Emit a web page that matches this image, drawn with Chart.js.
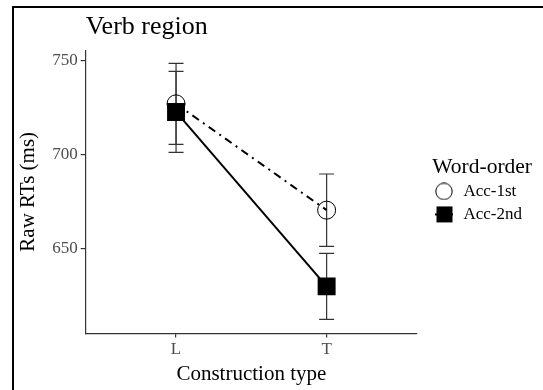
<!DOCTYPE html>
<html lang="en">
<head>
<meta charset="UTF-8">
<title>Verb region</title>
<script src="https://cdn.jsdelivr.net/npm/chart.js"></script>
<style>
  body { margin: 0; background: #fff; }
  #wrap { width: 543px; height: 390px; position: relative; }
</style>
</head>
<body>
<div id="wrap"><canvas id="chart" width="543" height="390"></canvas></div>
<script>
const categories = ['L', 'T'];
const seriesNames = ['Acc-1st', 'Acc-2nd'];
const acc1st = [727, 670.5];
const acc1stErr = [21.5, 19.2];
const acc2nd = [722.7, 630];
const acc2ndErr = [21.5, 17.5];
const yTicks = [650, 700, 750];

const serif = '"Liberation Serif", "DejaVu Serif", serif';

function toPoints(vals) {
    return vals.map((v, i) => ({ x: i + 1, y: v }));
}

// legend keys: wide images so the symbol sits a bit right of the legend edge
const KEY_W = 32;
function keyImage(kind) {
    const c = document.createElement('canvas');
    c.width = KEY_W; c.height = 18;
    const g = c.getContext('2d');
    const cx = KEY_W - 11;
    g.strokeStyle = '#000';
    g.fillStyle = '#000';
    g.lineWidth = 1;
    if (kind === 'circle') {
        g.beginPath();
        g.arc(cx, 9, 8.2, 0, Math.PI * 2);
        g.stroke();
    } else {
        g.lineWidth = 2;
        g.beginPath(); g.moveTo(cx - 9, 9); g.lineTo(cx + 9, 9); g.stroke();
        g.fillRect(cx - 7.5, 1, 16, 16);
    }
    return c;
}
const legendKeys = [keyImage('circle'), keyImage('square')];

const errorBars = {
    id: 'errorBars',
    beforeDatasetsDraw(chart) {
        const ctx = chart.ctx;
        const xs = chart.scales.x, ys = chart.scales.y;
        const sets = [[acc1st, acc1stErr], [acc2nd, acc2ndErr]];
        ctx.save();
        ctx.strokeStyle = '#333';
        ctx.lineWidth = 1.2;
        sets.forEach(([vals, errs]) => {
            vals.forEach((v, i) => {
                const x = xs.getPixelForValue(i + 1);
                const top = ys.getPixelForValue(v + errs[i]);
                const bot = ys.getPixelForValue(v - errs[i]);
                ctx.beginPath();
                ctx.moveTo(x, top); ctx.lineTo(x, bot);
                ctx.moveTo(x - 7.5, top); ctx.lineTo(x + 7.5, top);
                ctx.moveTo(x - 7.5, bot); ctx.lineTo(x + 7.5, bot);
                ctx.stroke();
            });
        });
        ctx.restore();
    }
};

const frame = {
    id: 'frame',
    beforeDraw(chart) {
        const ctx = chart.ctx;
        ctx.save();
        ctx.fillStyle = '#fff';
        ctx.fillRect(0, 0, chart.width, chart.height);
        ctx.strokeStyle = '#000';
        ctx.lineWidth = 2;
        ctx.beginPath();
        ctx.moveTo(13, chart.height);
        ctx.lineTo(13, 7);
        ctx.lineTo(chart.width, 7);
        ctx.stroke();
        ctx.restore();
    }
};

const ctx = document.getElementById('chart').getContext('2d');
new Chart(ctx, {
    type: 'line',
    data: {
        datasets: [{
            label: seriesNames[0],
            data: toPoints(acc1st),
            borderColor: '#000',
            borderWidth: 2,
            borderDash: [8, 5, 2, 5],
            pointStyle: 'circle',
            pointRadius: 9,
            pointBorderWidth: 1,
            pointBorderColor: '#000',
            pointBackgroundColor: 'rgba(0,0,0,0)',
            order: 2
        }, {
            label: seriesNames[1],
            data: toPoints(acc2nd),
            borderColor: '#000',
            borderWidth: 2,
            pointStyle: 'rect',
            pointRadius: 12.7,
            pointBorderWidth: 0,
            pointBackgroundColor: '#000',
            order: 1
        }]
    },
    options: {
        responsive: false,
        animation: false,
        layout: { padding: { left: 14, right: 11, top: 7, bottom: 3 } },
        plugins: {
            tooltip: { enabled: false },
            title: {
                display: true,
                text: 'Verb region',
                align: 'start',
                fullSize: false,
                color: '#000',
                font: { family: serif, size: 26, weight: 'normal' },
                padding: { top: 5, bottom: 7 }
            },
            legend: {
                position: 'right',
                align: 'center',
                title: {
                    display: true,
                    text: 'Word-order',
                    position: 'end',
                    color: '#000',
                    font: { family: serif, size: 21.5 },
                    padding: { top: -8, bottom: -6 }
                },
                labels: {
                    usePointStyle: true,
                    boxHeight: 17,
                    pointStyleWidth: KEY_W,
                    padding: 6,
                    color: '#000',
                    font: { family: serif, size: 17 },
                    generateLabels(chart) {
                        return seriesNames.map((name, i) => ({
                            text: name,
                            pointStyle: legendKeys[i],
                            fillStyle: '#000',
                            strokeStyle: '#000',
                            lineWidth: 0,
                            datasetIndex: i,
                            hidden: false
                        }));
                    }
                }
            }
        },
        scales: {
            x: {
                type: 'linear',
                min: 0.4,
                max: 2.6,
                afterBuildTicks(axis) {
                    axis.ticks = categories.map((c, i) => ({ value: i + 1 }));
                },
                border: { display: true, color: '#333', width: 1.2 },
                grid: { drawOnChartArea: false, drawTicks: true, tickLength: 4, color: '#333', lineWidth: 1.2 },
                ticks: {
                    color: '#4d4d4d',
                    padding: 2,
                    font: { family: serif, size: 17 },
                    callback: (v) => categories[v - 1]
                },
                title: {
                    display: true,
                    text: 'Construction type',
                    color: '#000',
                    font: { family: serif, size: 21 },
                    padding: { top: 0, bottom: 0 }
                }
            },
            y: {
                type: 'linear',
                min: 605,
                max: 755.5,
                afterBuildTicks(axis) {
                    axis.ticks = yTicks.map(v => ({ value: v }));
                },
                border: { display: true, color: '#333', width: 1.2 },
                grid: { drawOnChartArea: false, drawTicks: true, tickLength: 5, color: '#333', lineWidth: 1.2 },
                ticks: {
                    color: '#4d4d4d',
                    padding: 3,
                    font: { family: serif, size: 17 }
                },
                title: {
                    display: true,
                    text: 'Raw RTs (ms)',
                    color: '#000',
                    font: { family: serif, size: 21 },
                    padding: { top: 2, bottom: 8 }
                }
            }
        }
    },
    plugins: [frame, errorBars]
});
</script>
</body>
</html>
